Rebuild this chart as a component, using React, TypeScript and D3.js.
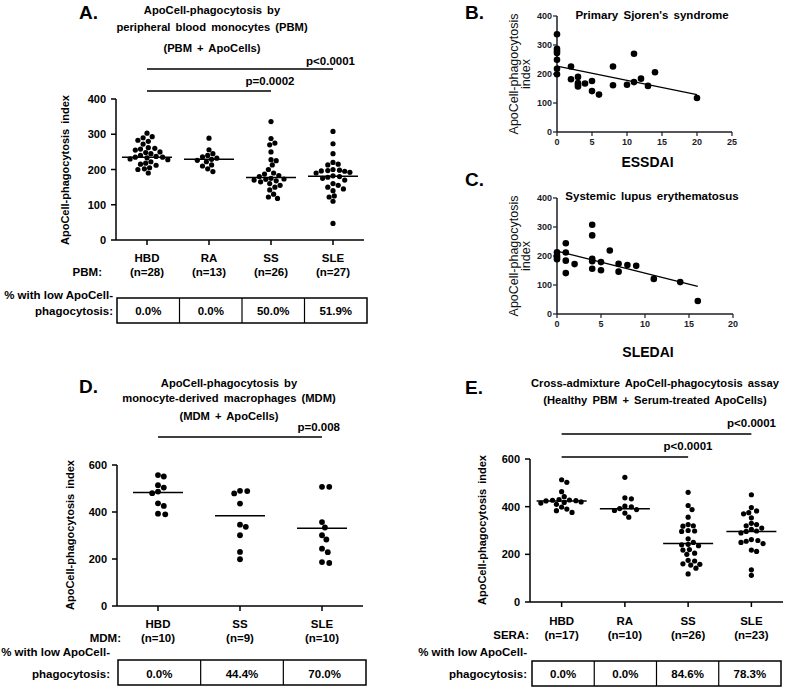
import React from "react";
import * as d3 from "d3";

const FONT = "'Liberation Sans', Arial, Helvetica, sans-serif";

// ---------- Panel A (PBM) ----------
const catsA = ["HBD", "RA", "SS", "SLE"];
const nLabelsA = ["(n=28)", "(n=13)", "(n=26)", "(n=27)"];
const hbdA = [303, 293, 290, 283, 280, 272, 262, 260, 258, 255, 250, 248, 245, 240, 237, 235, 235, 233, 230, 228, 222, 218, 215, 212, 205, 202, 200, 190];
const raA = [289, 256, 245, 240, 236, 232, 229, 226, 222, 213, 210, 202, 194];
const ssA = [336, 288, 275, 270, 250, 228, 225, 213, 200, 190, 187, 183, 180, 175, 173, 172, 170, 168, 165, 160, 155, 150, 142, 130, 122, 118];
const sleA = [308, 273, 245, 220, 215, 213, 200, 198, 197, 196, 195, 192, 190, 182, 180, 178, 175, 170, 160, 155, 150, 145, 140, 125, 122, 110, 47];
const medA = [235, 229, 177, 181];
const pctA = ["0.0%", "0.0%", "50.0%", "51.9%"];
const ticksA = [0, 100, 200, 300, 400];

// ---------- Panel B (Sjogren) ----------
const essdaiX = [0, 0, 0, 0, 0, 0, 0, 2, 2, 3, 3, 3, 3, 4, 5, 5, 6, 8, 8, 10, 11, 11, 12, 13, 14, 20];
const essdaiY = [337, 287, 279, 272, 249, 218, 199, 226, 182, 190, 169, 164, 157, 167, 176, 141, 129, 226, 161, 163, 270, 172, 184, 159, 206, 117];
const ticksBx = [0, 5, 10, 15, 20, 25];
const ticksBy = [0, 100, 200, 300, 400];

// ---------- Panel C (SLE) ----------
const sledaiX = [0, 0, 0, 0, 1, 1, 1, 1, 2, 4, 4, 4, 4, 4, 5, 5, 6, 7, 7, 8, 9, 11, 14, 16];
const sledaiY = [213, 202, 195, 189, 244, 212, 184, 141, 172, 308, 271, 190, 182, 156, 179, 151, 219, 173, 146, 169, 166, 121, 110, 45];
const ticksCx = [0, 5, 10, 15, 20];
const ticksCy = [0, 100, 200, 300, 400];

// ---------- Panel D (MDM) ----------
const catsD = ["HBD", "SS", "SLE"];
const nLabelsD = ["(n=10)", "(n=9)", "(n=10)"];
const hbdD = [557, 551, 514, 504, 487, 480, 437, 426, 393, 390];
const ssD = [490, 489, 479, 436, 346, 337, 301, 230, 199];
const sleD = [507, 507, 357, 334, 301, 283, 244, 229, 187, 183];
const medD = [483, 384, 331];
const pctD = ["0.0%", "44.4%", "70.0%"];
const ticksD = [0, 200, 400, 600];

// ---------- Panel E (cross-admixture) ----------
const catsE = ["HBD", "RA", "SS", "SLE"];
const nLabelsE = ["(n=17)", "(n=10)", "(n=26)", "(n=23)"];
const hbdE = [513, 502, 463, 442, 430, 428, 427, 425, 424, 420, 418, 415, 410, 398, 390, 383, 376];
const raE = [523, 437, 433, 402, 399, 392, 388, 384, 373, 356];
const ssE = [460, 405, 388, 356, 325, 320, 318, 300, 298, 296, 265, 250, 242, 240, 236, 220, 218, 205, 200, 175, 172, 160, 158, 155, 142, 118];
const sleE = [450, 396, 382, 375, 370, 353, 330, 325, 320, 310, 305, 298, 296, 290, 262, 258, 255, 250, 245, 218, 212, 135, 112];
const medE = [424, 391, 245, 296];
const pctE = ["0.0%", "0.0%", "84.6%", "78.3%"];
const ticksE = [0, 200, 400, 600];

type Pt = { x: number; y: number };

function swarm(values: number[], yScale: (v: number) => number, cx: number, r: number): Pt[] {
  const placed: Pt[] = [];
  const sorted = [...values].sort((a, b) => b - a);
  const minD = 2 * r * 1.02;
  for (const v of sorted) {
    const py = yScale(v);
    let chosen = cx;
    for (let k = 0; k < 80; k++) {
      const m = Math.ceil(k / 2);
      const off = k === 0 ? 0 : (k % 2 === 1 ? m : -m) * r * 0.5;
      const px = cx + off;
      if (placed.every((p) => Math.hypot(p.x - px, p.y - py) >= minD)) {
        chosen = px;
        break;
      }
    }
    placed.push({ x: chosen, y: py });
  }
  return placed;
}

type DotCfg = {
  groups: number[][];
  cats: string[];
  ns: string[];
  meds: number[];
  pcts: string[];
  ticks: number[];
  prefix: string;
  ax: number;
  axEnd: number;
  y0: number;
  yTop: number;
  r: number;
  catY: number;
  nY: number;
  prefixX: number;
  tx1: number;
  tx2: number;
  ty1: number;
  ty2: number;
  lowX: number;
  lowY1: number;
  lowY2: number;
  letter: string;
  letterX: number;
  letterY: number;
  titles: string[];
  titleX: number;
  titleYs: number[];
  pvals: { text: string; x: number; y: number; anchor: string; to: number; ly: number }[];
  ylabX: number;
  ylabY: number;
};

function DotPanel({ c }: { c: DotCfg }) {
  const y = d3.scaleLinear().domain([0, c.ticks[c.ticks.length - 1]]).range([c.y0, c.yTop]);
  const x = d3.scalePoint<string>().domain(c.cats).range([c.ax, c.axEnd]).padding(0.5);
  const tw = (c.tx2 - c.tx1) / c.cats.length;
  return (
    <g fontFamily={FONT} fontWeight="bold" fill="#000">
      <text x={c.letterX} y={c.letterY} fontSize={19}>{c.letter}</text>
      {c.titles.map((t, i) => (
        <text key={i} x={c.titleX} y={c.titleYs[i]} fontSize={11.2} textAnchor="middle" wordSpacing={2}>{t}</text>
      ))}
      {c.pvals.map((p, i) => (
        <g key={i}>
          <text x={p.x} y={p.y} fontSize={11.5} textAnchor={p.anchor}>{p.text}</text>
          <line x1={x(c.cats[0])} x2={x(c.cats[p.to])} y1={p.ly} y2={p.ly} stroke="#000" strokeWidth={1.5} />
        </g>
      ))}
      <text transform={`translate(${c.ylabX},${c.ylabY}) rotate(-90)`} fontSize={11} textAnchor="middle" wordSpacing={2}>
        ApoCell-phagocytosis index
      </text>
      <line x1={c.ax} x2={c.ax} y1={c.y0} y2={c.yTop} stroke="#000" strokeWidth={1.5} />
      <line x1={c.ax} x2={c.axEnd} y1={c.y0} y2={c.y0} stroke="#000" strokeWidth={1.5} />
      {c.ticks.map((t) => (
        <g key={t}>
          <line x1={c.ax - 5} x2={c.ax} y1={y(t)} y2={y(t)} stroke="#000" strokeWidth={1.5} />
          <text x={c.ax - 10} y={y(t) + 4} fontSize={11} textAnchor="end">{t}</text>
        </g>
      ))}
      {c.cats.map((cat, i) => (
        <g key={cat}>
          <line x1={x(cat)} x2={x(cat)} y1={c.y0} y2={c.y0 + 5} stroke="#000" strokeWidth={1.5} />
          <text x={x(cat)} y={c.catY} fontSize={11.5} textAnchor="middle">{cat}</text>
          <text x={x(cat)} y={c.nY} fontSize={11.5} textAnchor="middle">{c.ns[i]}</text>
          {swarm(c.groups[i], y, x(cat) as number, c.r).map((p, j) => (
            <circle key={j} cx={p.x} cy={p.y} r={c.r} fill="#000" />
          ))}
          <line x1={(x(cat) as number) - 25} x2={(x(cat) as number) + 25} y1={y(c.meds[i])} y2={y(c.meds[i])} stroke="#000" strokeWidth={1.5} />
          <text x={c.tx1 + tw * (i + 0.5)} y={c.lowY2} fontSize={11.5} textAnchor="middle">{c.pcts[i]}</text>
          {i > 0 && <line x1={c.tx1 + tw * i} x2={c.tx1 + tw * i} y1={c.ty1} y2={c.ty2} stroke="#000" strokeWidth={1.2} />}
        </g>
      ))}
      <text x={c.prefixX} y={c.nY} fontSize={11.5} textAnchor="end">{c.prefix}</text>
      <rect x={c.tx1} y={c.ty1} width={c.tx2 - c.tx1} height={c.ty2 - c.ty1} fill="none" stroke="#000" strokeWidth={1.5} />
      <text x={c.lowX} y={c.lowY1} fontSize={11.5} textAnchor="end">% with low ApoCell-</text>
      <text x={c.lowX} y={c.lowY2} fontSize={11.5} textAnchor="end">phagocytosis:</text>
    </g>
  );
}

type ScCfg = {
  xs: number[];
  ys: number[];
  xticks: number[];
  yticks: number[];
  ax: number;
  axEnd: number;
  y0: number;
  yTop: number;
  letter: string;
  letterX: number;
  letterY: number;
  title: string;
  titleX: number;
  titleY: number;
  xlabel: string;
  xlabelY: number;
  ylabX: number;
  ylabY: number;
};

function ScatterPanel({ c }: { c: ScCfg }) {
  const x = d3.scaleLinear().domain([0, c.xticks[c.xticks.length - 1]]).range([c.ax, c.axEnd]);
  const y = d3.scaleLinear().domain([0, c.yticks[c.yticks.length - 1]]).range([c.y0, c.yTop]);
  const mx = d3.mean(c.xs) as number;
  const my = d3.mean(c.ys) as number;
  let sxy = 0, sxx = 0;
  c.xs.forEach((xv, i) => {
    sxy += (xv - mx) * (c.ys[i] - my);
    sxx += (xv - mx) * (xv - mx);
  });
  const slope = sxy / sxx;
  const icpt = my - slope * mx;
  const xmin = d3.min(c.xs) as number;
  const xmax = d3.max(c.xs) as number;
  const col = "#1c1c28";
  return (
    <g fontFamily={FONT} fill="#000">
      <text x={c.letterX} y={c.letterY} fontSize={19} fontWeight="bold">{c.letter}</text>
      <text x={c.titleX} y={c.titleY} fontSize={11.5} fontWeight="bold" textAnchor="middle" wordSpacing={2}>{c.title}</text>
      <line x1={c.ax} x2={c.ax} y1={c.y0} y2={c.yTop} stroke={col} strokeWidth={1.5} />
      <line x1={c.ax} x2={c.axEnd} y1={c.y0} y2={c.y0} stroke={col} strokeWidth={1.5} />
      {c.yticks.map((t) => (
        <g key={t}>
          <line x1={c.ax - 4} x2={c.ax} y1={y(t)} y2={y(t)} stroke={col} strokeWidth={1.2} />
          <text x={c.ax - 5} y={y(t) + 3} fontSize={9} fontWeight="bold" textAnchor="end" fill={col}>{t}</text>
        </g>
      ))}
      {c.xticks.map((t) => (
        <g key={t}>
          <line x1={x(t)} x2={x(t)} y1={c.y0} y2={c.y0 + 4} stroke={col} strokeWidth={1.2} />
          <text x={x(t)} y={c.y0 + 13} fontSize={9} fontWeight="bold" textAnchor="middle" fill={col}>{t}</text>
        </g>
      ))}
      {c.xs.map((xv, i) => (
        <circle key={i} cx={x(xv)} cy={y(c.ys[i])} r={3.3} fill="#000" />
      ))}
      <line x1={x(xmin)} x2={x(xmax)} y1={y(icpt + slope * xmin)} y2={y(icpt + slope * xmax)} stroke="#000" strokeWidth={1.3} />
      <text x={(c.ax + c.axEnd) / 2 + 3} y={c.xlabelY} fontSize={14} fontWeight="bold" textAnchor="middle">{c.xlabel}</text>
      <text transform={`translate(${c.ylabX},${c.ylabY}) rotate(-90)`} fontSize={12.5} textAnchor="middle" fill="#111">ApoCell-phagocytosis</text>
      <text transform={`translate(${c.ylabX + 12},${c.ylabY}) rotate(-90)`} fontSize={12.5} textAnchor="middle" fill="#111">index</text>
    </g>
  );
}

export default function App() {
  const cfgA: DotCfg = {
    groups: [hbdA, raA, ssA, sleA], cats: catsA, ns: nLabelsA, meds: medA, pcts: pctA, ticks: ticksA,
    prefix: "PBM:", ax: 116, axEnd: 364, y0: 240, yTop: 99, r: 2.6,
    catY: 262, nY: 276, prefixX: 102,
    tx1: 117, tx2: 367, ty1: 298, ty2: 323, lowX: 113, lowY1: 299, lowY2: 315,
    letter: "A.", letterX: 79, letterY: 19,
    titles: ["ApoCell-phagocytosis by", "peripheral blood monocytes (PBM)", "(PBM + ApoCells)"],
    titleX: 212, titleYs: [14, 31, 52],
    pvals: [
      { text: "p<0.0001", x: 355, y: 65, anchor: "end", to: 3, ly: 69 },
      { text: "p=0.0002", x: 270, y: 85, anchor: "middle", to: 2, ly: 91 },
    ],
    ylabX: 69, ylabY: 170,
  };
  const cfgD: DotCfg = {
    groups: [hbdD, ssD, sleD], cats: catsD, ns: nLabelsD, meds: medD, pcts: pctD, ticks: ticksD,
    prefix: "MDM:", ax: 117, axEnd: 363, y0: 606, yTop: 465, r: 2.9,
    catY: 628, nY: 642, prefixX: 121,
    tx1: 118, tx2: 366, ty1: 660, ty2: 685, lowX: 110, lowY1: 656, lowY2: 678,
    letter: "D.", letterX: 79, letterY: 393,
    titles: ["ApoCell-phagocytosis by", "monocyte-derived macrophages (MDM)", "(MDM + ApoCells)"],
    titleX: 229, titleYs: [387, 402, 420],
    pvals: [{ text: "p=0.008", x: 340, y: 431, anchor: "end", to: 2, ly: 437 }],
    ylabX: 74, ylabY: 535,
  };
  const cfgE: DotCfg = {
    groups: [hbdE, raE, ssE, sleE], cats: catsE, ns: nLabelsE, meds: medE, pcts: pctE, ticks: ticksE,
    prefix: "SERA:", ax: 530, axEnd: 783, y0: 602, yTop: 459, r: 2.6,
    catY: 625, nY: 639, prefixX: 529,
    tx1: 532, tx2: 781, ty1: 661, ty2: 686, lowX: 527, lowY1: 656, lowY2: 678,
    letter: "E.", letterX: 465, letterY: 394,
    titles: ["Cross-admixture ApoCell-phagocytosis assay", "(Healthy PBM + Serum-treated ApoCells)"],
    titleX: 655, titleYs: [387, 404],
    pvals: [
      { text: "p<0.0001", x: 776, y: 427, anchor: "end", to: 3, ly: 434 },
      { text: "p<0.0001", x: 688, y: 450, anchor: "middle", to: 2, ly: 457 },
    ],
    ylabX: 486, ylabY: 530,
  };
  const cfgB: ScCfg = {
    xs: essdaiX, ys: essdaiY, xticks: ticksBx, yticks: ticksBy,
    ax: 557, axEnd: 732, y0: 132, yTop: 16,
    letter: "B.", letterX: 465, letterY: 19,
    title: "Primary Sjoren's syndrome", titleX: 652, titleY: 19,
    xlabel: "ESSDAI", xlabelY: 167, ylabX: 518, ylabY: 74,
  };
  const cfgC: ScCfg = {
    xs: sledaiX, ys: sledaiY, xticks: ticksCx, yticks: ticksCy,
    ax: 557, axEnd: 733, y0: 314, yTop: 198,
    letter: "C.", letterX: 465, letterY: 186,
    title: "Systemic lupus erythematosus", titleX: 652, titleY: 200,
    xlabel: "SLEDAI", xlabelY: 357, ylabX: 518, ylabY: 256,
  };
  return (
    <svg width={787} height={690} style={{ position: "absolute", left: 0, top: 0, background: "#fff" }}>
      <rect width={787} height={690} fill="#fff" />
      <DotPanel c={cfgA} />
      <ScatterPanel c={cfgB} />
      <ScatterPanel c={cfgC} />
      <DotPanel c={cfgD} />
      <DotPanel c={cfgE} />
    </svg>
  );
}
